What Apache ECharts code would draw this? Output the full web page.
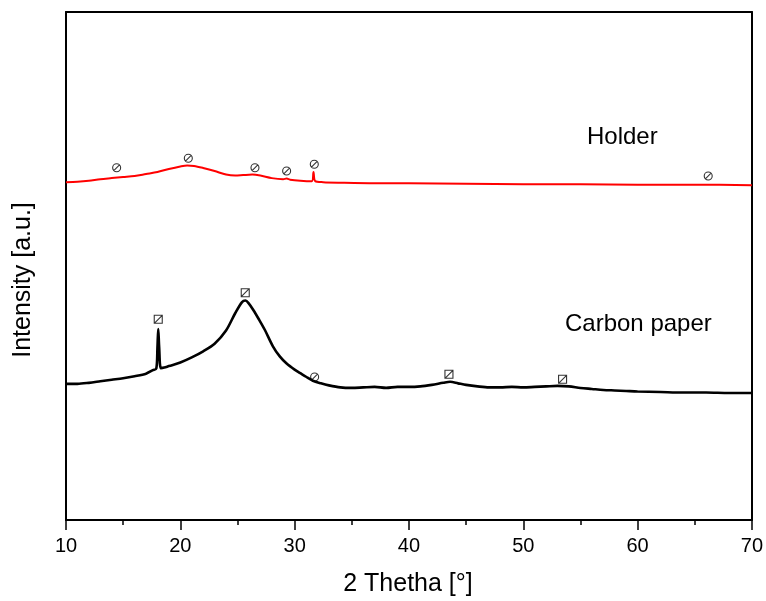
<!DOCTYPE html>
<html>
<head>
<meta charset="utf-8">
<script src="https://cdn.jsdelivr.net/npm/echarts@6/dist/echarts.min.js"></script>
<style>html,body{margin:0;padding:0;background:#fff;}#c{width:766px;height:601px;}</style>
</head>
<body>
<div id="c"></div>
<script>
// 2θ positions and intensities (a.u.)
const holderTheta = [10,11,12,13,14,15,16,17,18,19,20,20.6,21.2,22,23,24,24.8,25.5,26.3,27,28,29,29.3,29.6,30.5,31.5,31.65,31.8,32.5,34,37,40,45,50,55,60,65,70];
const holderInt   = [66.5,66.6,66.8,67.1,67.3,67.5,67.7,68.1,68.5,69.1,69.6,69.8,69.7,69.3,68.7,68.0,67.8,67.9,68.0,67.8,67.3,67.1,67.2,67.0,66.8,66.7,68.5,66.7,66.5,66.4,66.3,66.3,66.2,66.1,66.1,66.0,66.0,65.9];

const carbonTheta = [10,11,12,13,14,15,16,17,17.6,17.9,18.0,18.07,18.15,18.3,18.6,19,20,21,22,23,24,24.8,25.4,25.7,26.0,26.4,26.9,27.4,28.1,28.7,29.3,30.0,30.5,31.0,31.6,32.3,33,34,35,36,37,38,39,40,41,42,43,43.6,44.3,45,46,47,48,49,50,51,52,53,54,55,56,57,58,59,60,62,64,66,68,70];
const carbonInt   = [26.8,26.8,27.0,27.3,27.6,27.9,28.3,28.8,29.5,29.8,34.0,37.6,34.0,29.9,30.0,30.3,31.0,32.0,33.2,34.7,37.3,40.7,42.9,43.2,42.6,41.3,39.4,37.4,34.2,32.2,30.8,29.6,28.9,28.2,27.4,26.9,26.5,26.1,26.0,26.1,26.2,26.0,26.2,26.2,26.3,26.6,27.0,27.2,26.9,26.6,26.3,26.1,26.1,26.2,26.1,26.2,26.3,26.4,26.3,26.0,25.8,25.6,25.5,25.4,25.3,25.2,25.1,25.1,25.0,25.0];

// peak markers: ⊘ (circle) and ◪ (square)
const circleMarkers = [[14.43,69.35],[20.70,71.20],[26.53,69.35],[29.30,68.70],[31.72,70.02],[66.18,67.72],[31.75,28.15]];
const squareMarkers = [[18.07,39.51],[25.68,44.74],[43.50,28.68],[53.44,27.70]];

const xTicks = {min:10, max:70, step:10, minorStep:5};
const labels = {holder:'Holder', carbon:'Carbon paper', xName:'2 Thetha [°]', yName:'Intensity [a.u.]'};

const zip = (a,b) => a.map((v,i)=>[v,b[i]]);
const FONT = '"Liberation Sans", Arial, sans-serif';

const chart = echarts.init(document.getElementById('c'), null, {renderer:'canvas'});
const hiddenAxis = {axisTick:{show:false}, axisLabel:{show:false}, splitLine:{show:false},
  axisLine:{show:true, onZero:false, lineStyle:{color:'#000', width:2}}};

chart.setOption({
  animation:false,
  backgroundColor:'#fff',
  grid:{left:66, top:12, right:14, bottom:81, containLabel:false},
  xAxis:[
    {type:'value', min:xTicks.min, max:xTicks.max, interval:xTicks.step, position:'bottom',
     axisLine:{show:true, onZero:false, lineStyle:{color:'#000', width:2}},
     axisTick:{show:true, length:10, lineStyle:{color:'#000', width:1.5}},
     axisLabel:{color:'#000', fontSize:20, fontFamily:FONT, margin:16},
     splitLine:{show:false}},
    Object.assign({type:'value', min:xTicks.min, max:xTicks.max, position:'top'}, hiddenAxis),
    {type:'value', min:xTicks.min, max:xTicks.max, interval:xTicks.minorStep, position:'bottom',
     axisLine:{show:false, onZero:false},
     axisTick:{show:true, length:5, lineStyle:{color:'#000', width:1.5}},
     axisLabel:{show:false}, splitLine:{show:false}}
  ],
  yAxis:[
    Object.assign({type:'value', min:0, max:100, position:'left'}, hiddenAxis),
    Object.assign({type:'value', min:0, max:100, position:'right'}, hiddenAxis)
  ],
  graphic:[
    {type:'text', left:587, top:125, style:{text:labels.holder, font:'24px '+FONT, fill:'#000'}},
    {type:'text', left:565, top:312, style:{text:labels.carbon, font:'24px '+FONT, fill:'#000'}},
    {type:'text', x:408, y:584, style:{text:labels.xName, font:'25px '+FONT, fill:'#000', textAlign:'center', textVerticalAlign:'middle'}},
    {type:'text', x:23, y:280, rotation:Math.PI/2, style:{text:labels.yName, font:'25px '+FONT, fill:'#000', textAlign:'center', textVerticalAlign:'middle'}}
  ],
  series:[
    {type:'line', data:zip(holderTheta, holderInt), showSymbol:false, symbol:'none',
     smooth:0.3,
     lineStyle:{color:'#ff0000', width:2}, silent:true},
    {type:'line', data:zip(carbonTheta, carbonInt), showSymbol:false, symbol:'none',
     smooth:0.3,
     lineStyle:{color:'#000', width:2.6}, silent:true},
    {type:'scatter', data:circleMarkers, symbol:'path://M10 1A9 9 0 1 1 9.99 1Z M3.6 16.4L16.4 3.6', symbolSize:8,
     itemStyle:{color:'rgba(0,0,0,0)', borderColor:'#000', borderWidth:1.1}, silent:true},
    {type:'scatter', data:squareMarkers, symbol:'path://M0 0H20V20H0Z M0 20L20 0', symbolSize:8,
     itemStyle:{color:'rgba(0,0,0,0)', borderColor:'#000', borderWidth:1.1}, silent:true}
  ]
});
</script>
</body>
</html>
